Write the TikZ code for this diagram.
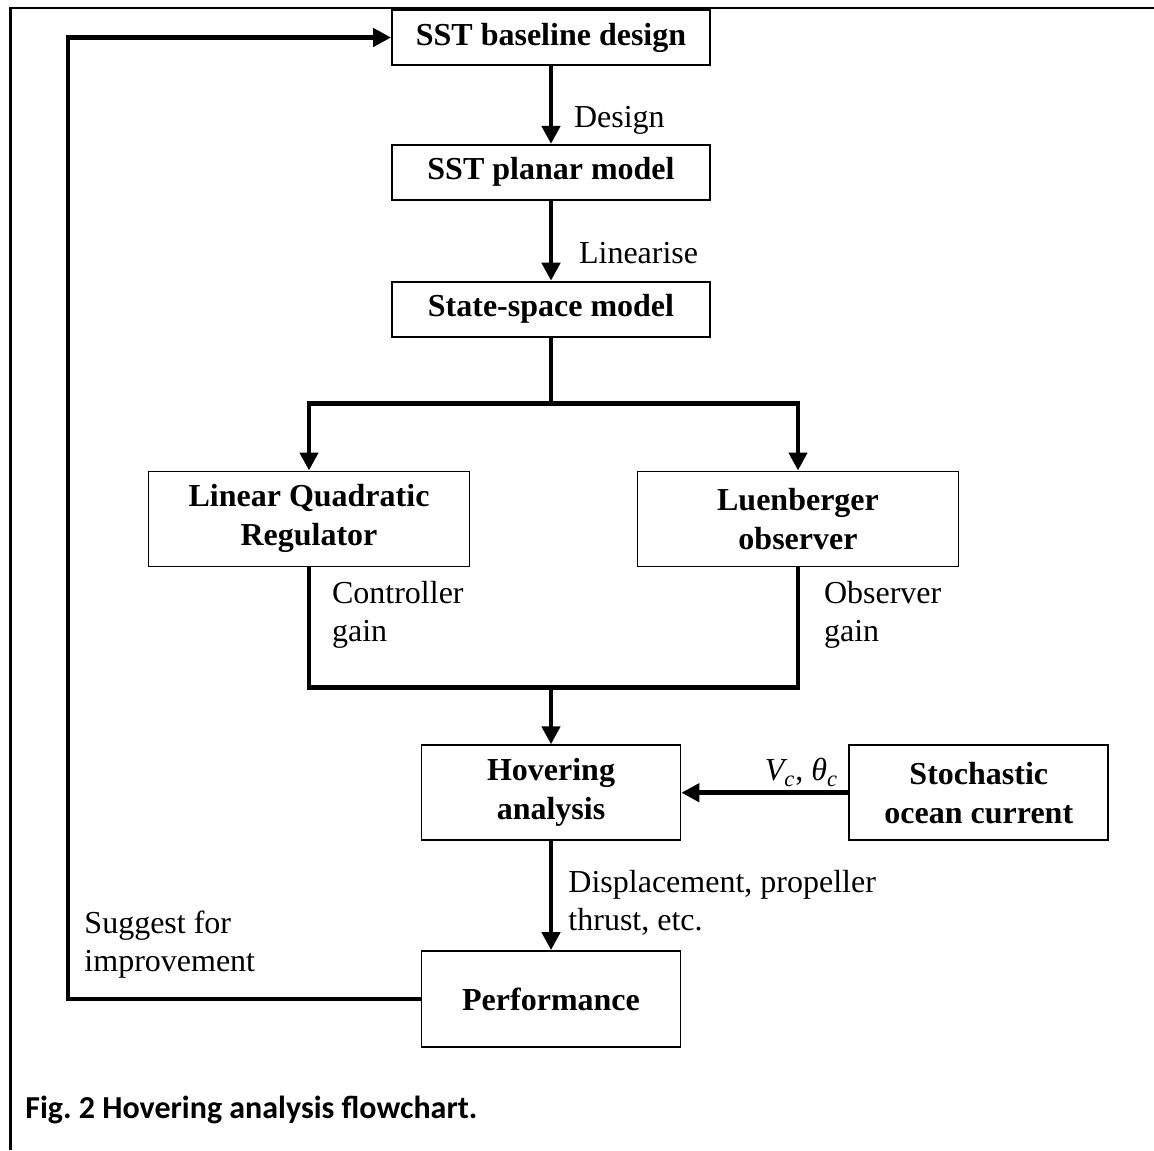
\documentclass[tikz,border=0pt]{standalone}
\usepackage{fontspec}
\setmainfont{Liberation Serif}
\newfontfamily\capfont{Carlito}
\usepackage{tikz}
\usetikzlibrary{arrows.meta,positioning,calc}
\frenchspacing

\begin{document}
\begin{tikzpicture}[
  block/.style={draw, line width=0.9pt, minimum width=159pt, minimum height=27.5pt, align=center, inner sep=2pt, font=\fontsize{16}{19.5}\selectfont\bfseries},
  wideblock/.style={block, minimum width=160.5pt, minimum height=47.5pt},
  midblock/.style={block, minimum width=129.5pt, minimum height=47.5pt},
  arr/.style={-{Triangle[length=9pt,width=9pt]}, line width=2.4pt},
  link/.style={line width=2.4pt},
  lbl/.style={font=\fontsize{16}{19}\selectfont, align=left}
]
  \useasboundingbox (0,0) rectangle (577pt,-575pt);
  % frame
  \draw[line width=1.35pt] (5.3pt,-575pt) -- (5.3pt,-4pt) -- (577pt,-4pt);

  \node[block] (base) at (275.5pt,-18.75pt) {SST baseline design};
  \node[block, below=39pt of base] (planar) {SST planar model};
  \node[block, below=40pt of planar] (ss) {State-space model};
  \node[wideblock, below=66.5pt of ss, xshift=-121pt] (lqr) {Linear Quadratic\\Regulator};
  \node[wideblock, below=66.5pt of ss, xshift=123.5pt] (luen) {Luenberger\\observer};

  \coordinate[below=33pt of ss.south] (split);
  \coordinate[below=60pt of lqr.south] (c1);
  \coordinate (mrg) at (c1 -| ss);
  \node[midblock, below=28.5pt of mrg] (hov) {Hovering\\analysis};
  \node[midblock, right=83.5pt of hov] (stoch) {Stochastic\\ocean current};
  \node[midblock, below=54.5pt of hov, minimum height=48pt] (perf) {Performance};
  \coordinate (fbx) at (34pt,0);

  \draw[arr] (base) -- node[lbl, right=7pt, pos=0.7] {Design} (planar);
  \draw[arr] (planar) -- node[lbl, right=9.5pt, pos=0.65] {Linearise} (ss);

  % split to controller and observer
  \draw[link] (ss) -- (split);
  \draw[arr] (split) -| (lqr);
  \draw[arr] (split) -| (luen);

  % merge of gains
  \draw[link] (lqr) |- node[lbl, right=7pt, pos=0.2] {Controller\\gain} (mrg)
    -| node[lbl, right=8.5pt, pos=0.8] {Observer\\gain} (luen);
  \draw[arr] (mrg) -- (hov);

  \draw[arr] (stoch) -- node[lbl, pos=0, anchor=south east, xshift=-2pt, inner sep=2pt] {\textit{V\textsubscript{c}}, \textit{θ\textsubscript{c}}} (hov);
  \draw[arr] (hov) -- node[lbl, right=4.2pt, pos=0.57] {Displacement, propeller\\thrust, etc.} (perf);

  % feedback loop
  \draw[arr] (perf.west) -- (perf.west -| fbx)
    node[lbl, above right=5.7pt and 3.7pt] {Suggest for\\improvement}
    |- (base.west);

  \node[font=\capfont\bfseries\fontsize{16}{19}\selectfont, anchor=base west, inner sep=0pt] (cap) at (12.5pt,-559pt) {Fig. 2 Hovering analysis flowchart.};
\end{tikzpicture}
\end{document}
